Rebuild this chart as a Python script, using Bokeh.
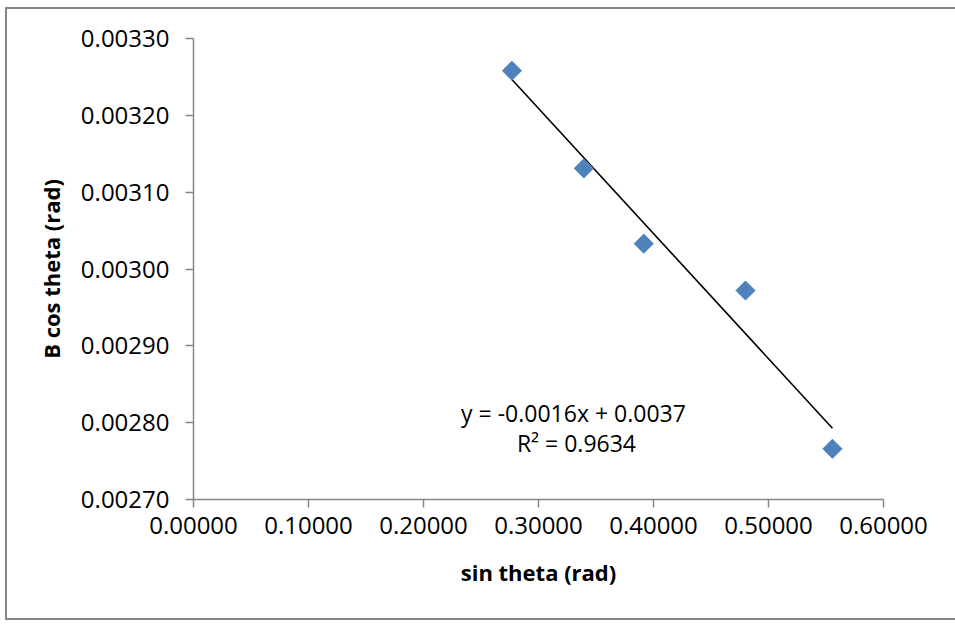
import numpy as np
from bokeh.plotting import figure
from bokeh.models import FixedTicker, PrintfTickFormatter, Label, Range1d, InlineStyleSheet
from bokeh.embed import file_html
from bokeh.resources import INLINE

# Data
sin_theta = [0.2769, 0.3394, 0.3915, 0.4800, 0.5556]
b_cos_theta = [0.003258, 0.003131, 0.003033, 0.002972, 0.002766]
x_ticks = [0.0, 0.1, 0.2, 0.3, 0.4, 0.5, 0.6]
y_ticks = [0.0027, 0.0028, 0.0029, 0.0030, 0.0031, 0.0032, 0.0033]
eq_text = "y = -0.0016x + 0.0037"
r2_text = "R² = 0.9634"

FONT = "Open Sans"
AXIS_COLOR = "#868686"

border_css = InlineStyleSheet(css="""
:host { position: relative; }
:host::after {
  content: "";
  position: absolute;
  left: 5px; top: 7px; width: 950px; height: 613px;
  border-left: 2px solid #868686;
  border-top: 2px solid #868686;
  border-bottom: 2px solid #868686;
  box-sizing: border-box;
  pointer-events: none;
  z-index: 10;
}
""")

p = figure(width=955, height=624, output_backend="svg", toolbar_location=None,
           x_range=Range1d(0, 0.6), y_range=Range1d(0.0027, 0.0033),
           min_border_left=193, min_border_right=72, min_border_top=38, min_border_bottom=125,
           stylesheets=[border_css])
p.outline_line_color = None
p.xgrid.visible = False
p.ygrid.visible = False
p.background_fill_color = "white"
p.border_fill_color = "white"

for ax in (p.xaxis[0], p.yaxis[0]):
    ax.axis_line_color = AXIS_COLOR
    ax.axis_line_width = 1.5
    ax.major_tick_line_color = AXIS_COLOR
    ax.major_tick_line_width = 1.5
    ax.major_tick_in = 0
    ax.major_tick_out = 8
    ax.minor_tick_line_color = None
    ax.major_label_text_font = FONT
    ax.major_label_text_font_size = "24px"
    ax.major_label_text_color = "black"
    ax.axis_label_text_font = FONT
    ax.axis_label_text_font_style = "bold"
    ax.axis_label_text_font_size = "22px"
    ax.axis_label_text_color = "black"

p.xaxis.ticker = FixedTicker(ticks=x_ticks)
p.yaxis.ticker = FixedTicker(ticks=y_ticks)
p.xaxis.formatter = PrintfTickFormatter(format="%.5f")
p.yaxis.formatter = PrintfTickFormatter(format="%.5f")
p.xaxis.axis_label = "sin theta (rad)"
p.yaxis.axis_label = "B cos theta (rad)"
p.xaxis.major_label_standoff = 9
p.yaxis.major_label_standoff = 16
p.xaxis.axis_label_standoff = 20
p.yaxis.axis_label_standoff = 12

# Linear trendline fitted to the data
xs = np.array(sin_theta)
ys = np.array(b_cos_theta)
slope, intercept = np.polyfit(xs, ys, 1)
tx = np.array([xs.min(), xs.max()])
p.line(tx, slope * tx + intercept, line_color="black", line_width=1.6)

p.scatter(sin_theta, b_cos_theta, marker="square", size=13.5, angle=np.pi / 4,
          fill_color="#4F81BD", line_color="#4F81BD", line_width=1)

p.add_layout(Label(x=0.3304, y=0.002812, text=eq_text, text_align="center",
                   text_baseline="middle", text_font=FONT, text_font_size="23px",
                   text_color="black"))
p.add_layout(Label(x=0.3330, y=0.002773, text=r2_text, text_align="center",
                   text_baseline="middle", text_font=FONT, text_font_size="23px",
                   text_color="black"))

open("out.html", "w").write(file_html(p, INLINE))
